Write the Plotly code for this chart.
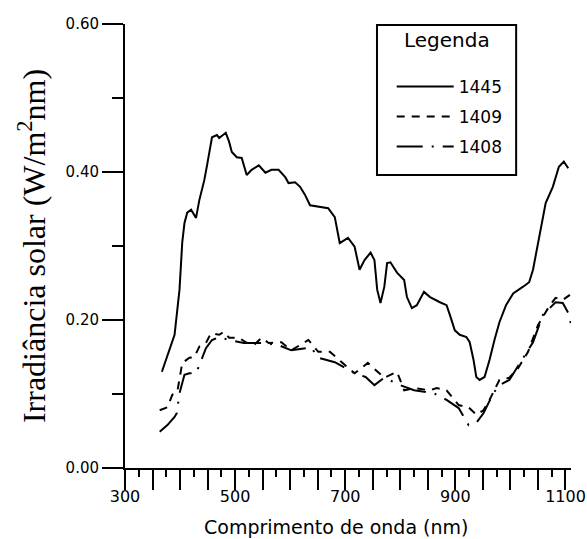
import plotly.graph_objects as go

# ---- data ----
wl_1445 = [367, 390, 399, 404, 408, 413, 420, 429, 435, 444, 449, 453, 458, 467, 471, 483, 489, 494,
           503, 512, 521, 530, 543, 555, 566, 579, 591, 597, 609, 618, 627, 636, 651, 669, 681, 690,
           705, 717, 726, 735, 746, 753, 758, 764, 771, 776, 782, 794, 807, 812, 821, 830, 843, 854,
           872, 884, 890, 899, 908, 920, 926, 933, 938, 944, 953, 962, 971, 980, 992, 1005, 1023,
           1034, 1041, 1046, 1059, 1064, 1077, 1088, 1097, 1105]
irr_1445 = [0.130, 0.180, 0.241, 0.305, 0.331, 0.345, 0.349, 0.338, 0.362, 0.389, 0.409, 0.427,
            0.447, 0.450, 0.446, 0.453, 0.441, 0.427, 0.420, 0.419, 0.396, 0.403, 0.409, 0.399,
            0.403, 0.403, 0.393, 0.385, 0.386, 0.380, 0.369, 0.355, 0.353, 0.351, 0.339, 0.304,
            0.311, 0.299, 0.268, 0.281, 0.291, 0.281, 0.241, 0.223, 0.245, 0.277, 0.278, 0.264,
            0.254, 0.231, 0.216, 0.220, 0.238, 0.231, 0.224, 0.220, 0.207, 0.186, 0.180, 0.177,
            0.170, 0.146, 0.123, 0.119, 0.123, 0.146, 0.173, 0.197, 0.220, 0.236, 0.245, 0.251,
            0.268, 0.288, 0.339, 0.358, 0.380, 0.407, 0.414, 0.405]

wl_1409 = [363, 377, 386, 395, 404, 417, 426, 435, 447, 456, 471, 480, 489, 507, 519, 534, 548,
           561, 584, 602, 633, 651, 672, 699, 717, 741, 771, 794, 807, 825, 854, 866, 884, 906,
           924, 938, 951, 962, 980, 998, 1014, 1032, 1050, 1070, 1082, 1095, 1108]
irr_1409 = [0.078, 0.082, 0.099, 0.103, 0.142, 0.149, 0.150, 0.164, 0.169, 0.182, 0.180, 0.184,
            0.176, 0.176, 0.170, 0.166, 0.176, 0.169, 0.170, 0.159, 0.173, 0.157, 0.157, 0.139,
            0.128, 0.142, 0.122, 0.130, 0.105, 0.108, 0.105, 0.108, 0.105, 0.085, 0.082, 0.072,
            0.078, 0.092, 0.119, 0.122, 0.135, 0.157, 0.193, 0.218, 0.230, 0.227, 0.234]

wl_1408 = [363, 377, 390, 394, 399, 408, 417, 429, 435, 447, 458, 471, 489, 516, 552, 579, 602,
           638, 651, 681, 717, 737, 753, 771, 800, 825, 861, 884, 906, 924, 938, 951, 969, 980,
           998, 1019, 1041, 1059, 1082, 1095, 1107, 1110]
irr_1408 = [0.049, 0.058, 0.069, 0.074, 0.101, 0.126, 0.128, 0.128, 0.139, 0.162, 0.173, 0.177,
            0.173, 0.169, 0.169, 0.166, 0.159, 0.163, 0.149, 0.143, 0.128, 0.123, 0.112, 0.122,
            0.112, 0.105, 0.101, 0.092, 0.081, 0.058, 0.061, 0.074, 0.101, 0.112, 0.119, 0.143,
            0.170, 0.207, 0.224, 0.223, 0.207, 0.193]

series_names = ["1445", "1409", "1408"]
legend_title = "Legenda"
x_title = "Comprimento de onda (nm)"
y_title = "Irradiância solar (W/m<sup>2</sup>nm)"
x_tickvals = list(range(300, 1101, 50))
x_ticktext = [str(v) if v % 200 == 100 else "" for v in x_tickvals]
x_minorvals = list(range(325, 1100, 50))
y_tickvals = [0.0, 0.2, 0.4, 0.6]
y_ticktext = ["0.00", "0.20", "0.40", "0.60"]
y_minorvals = [0.1, 0.3, 0.5]

sans = "DejaVu Sans"

fig = go.Figure()
fig.add_trace(go.Scatter(x=wl_1445, y=irr_1445, mode="lines", name=series_names[0],
                         legendgroup="a", line=dict(color="black", width=2)))
fig.add_trace(go.Scatter(x=wl_1409, y=irr_1409, mode="lines", name=series_names[1],
                         legendgroup="b", line=dict(color="black", width=2, dash="8px,7px")))
fig.add_trace(go.Scatter(x=wl_1408, y=irr_1408, mode="lines", name=series_names[2],
                         legendgroup="c", line=dict(color="black", width=2, dash="26px,9px,2px,9px")))

# legend frame and heading (legend items themselves come from Plotly's legend)
fig.add_shape(type="rect", xref="paper", yref="paper", x0=0.565, x1=0.877, y0=0.660, y1=0.998,
              line=dict(color="black", width=2), fillcolor="rgba(0,0,0,0)", layer="above")
fig.add_annotation(text=legend_title, xref="paper", yref="paper", x=0.721, y=0.963,
                   xanchor="center", yanchor="middle", showarrow=False,
                   font=dict(family=sans, size=20, color="black"))
# x-axis title placed as in the reference (slightly left of the plot centre)
fig.add_annotation(text=x_title, xref="paper", yref="paper", x=0.473, y=-0.133,
                   xanchor="center", yanchor="middle", showarrow=False,
                   font=dict(family=sans, size=19, color="black"))

fig.update_layout(
    width=587, height=539,
    margin=dict(l=125, r=16, t=24, b=71, autoexpand=False),
    plot_bgcolor="white", paper_bgcolor="white",
    showlegend=True,
    legend=dict(
        x=0.598, y=0.899, xanchor="left", yanchor="top",
        borderwidth=0, bgcolor="rgba(0,0,0,0)",
        font=dict(family=sans, size=17, color="black"),
        itemwidth=57, tracegroupgap=5,
    ),
    xaxis=dict(
        range=[300, 1110], showgrid=False, zeroline=False,
        showline=True, linecolor="black", linewidth=2,
        tickmode="array", tickvals=x_tickvals, ticktext=x_ticktext,
        ticks="outside", ticklen=20, tickwidth=2, tickcolor="black",
        ticklabelstandoff=-7,
        minor=dict(tickmode="array", tickvals=x_minorvals, ticks="outside", ticklen=7,
                   tickwidth=2, tickcolor="black"),
        tickfont=dict(family=sans, size=16, color="black"),
        automargin=False,
    ),
    yaxis=dict(
        range=[0, 0.6], showgrid=False, zeroline=False,
        showline=True, linecolor="black", linewidth=2,
        tickmode="array", tickvals=y_tickvals, ticktext=y_ticktext,
        ticks="outside", ticklen=21, tickwidth=2, tickcolor="black",
        minor=dict(tickmode="array", tickvals=y_minorvals, ticks="outside", ticklen=11,
                   tickwidth=2, tickcolor="black"),
        tickfont=dict(family=sans, size=15, color="black"),
        title=dict(text=y_title,
                   font=dict(family="Liberation Serif", size=32, color="black"), standoff=10),
        automargin=False,
    ),
)

fig.write_html("out.html")
